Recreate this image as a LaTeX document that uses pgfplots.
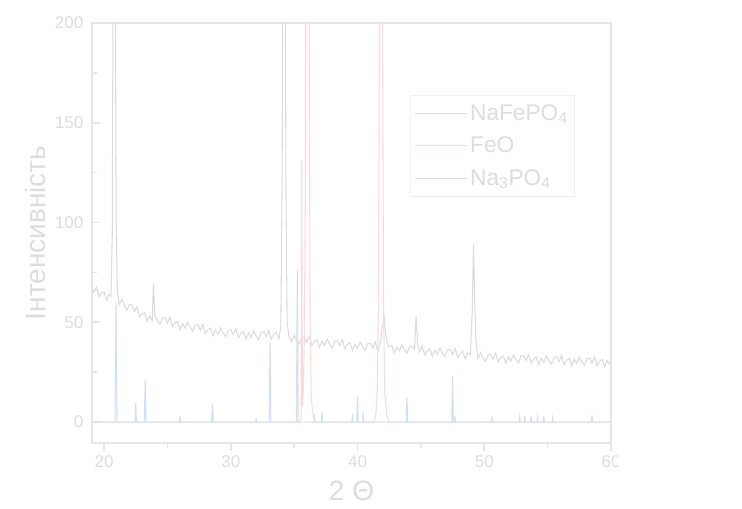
\documentclass[border=0pt]{standalone}
\usepackage{pgfplots}
\pgfplotsset{compat=1.18}
\usepackage{pgfplotstable}
\usepackage{fontspec}
\setmainfont{Liberation Sans}

\definecolor{axc}{HTML}{E6E6E6}
\definecolor{txc}{HTML}{DDDDDD}
\definecolor{grc}{HTML}{DCDCDC}
\definecolor{rdc}{HTML}{FADADA}
\definecolor{blc}{HTML}{D3DFF5}

% NaFePO4 pattern
\pgfplotstableread{
x y
19.0 67.8
19.2 65.0
19.4 67.7
19.6 62.9
19.8 64.7
20.0 65.3
20.2 61.2
20.4 64.0
20.55 63.0
20.65 95
20.72 230
20.8 420
20.88 240
20.96 100
21.05 66
21.2 58.8
21.4 61.5
21.6 58.5
21.8 56.1
22.0 58.9
22.2 58.6
22.4 55.5
22.6 57.9
22.8 52.8
23.0 54.3
23.2 54.8
23.4 50.6
23.6 53.3
23.8 50.8
23.9 69.5
24.0 53.6
24.2 50.9
24.4 49.0
24.6 52.1
24.8 52.3
25.0 49.6
25.2 52.4
25.4 47.7
25.6 49.7
25.8 50.4
26.0 46.4
26.2 49.3
26.4 47.1
26.6 50.1
26.8 47.5
27.0 45.5
27.2 48.6
27.4 48.8
27.6 46.1
27.8 49.0
28.0 44.3
28.2 46.3
28.4 47.1
28.6 43.2
28.8 46.2
29.0 44.0
29.2 47.2
29.4 44.6
29.6 42.8
29.8 46.0
30.0 46.3
30.2 43.8
30.4 46.8
30.6 42.3
30.8 44.4
31.0 45.3
31.2 41.5
31.4 44.6
31.6 42.4
31.8 45.6
32.0 43.1
32.2 41.4
32.4 44.8
32.6 45.2
32.8 42.8
33.0 45.9
33.2 41.6
33.4 44.0
33.6 45.1
33.8 41.6
33.95 48
34.05 120
34.12 260
34.2 450
34.28 260
34.36 110
34.45 50
34.6 42.6
34.8 40.4
35.0 43.6
35.2 41.0
35.4 39.1
35.6 42.3
35.8 42.6
36.0 40.0
36.2 43.0
36.4 38.4
36.6 40.5
36.8 41.3
37.0 37.5
37.2 40.6
37.4 38.4
37.6 41.6
37.8 39.0
38.0 37.2
38.2 40.5
38.4 40.8
38.6 38.3
38.8 41.3
39.0 36.8
39.2 38.9
39.4 39.8
39.6 35.9
39.8 39.0
40.0 36.9
40.2 40.1
40.4 37.7
40.6 35.9
40.8 39.2
41.0 39.5
41.2 37.0
41.4 40.0
41.6 35.6
41.8 39.5
41.95 47
42.1 52.5
42.2 45
42.35 39.5
42.5 37.6
42.7 38.5
42.9 34.6
43.1 37.7
43.3 35.6
43.5 38.7
43.7 36.2
43.9 34.4
44.1 37.7
44.3 37.9
44.5 36.5
44.62 53
44.75 39
44.9 35.2
45.1 38.2
45.3 33.7
45.5 35.8
45.7 36.7
45.9 32.9
46.1 36.0
46.3 33.9
46.5 37.1
46.7 34.6
46.9 32.8
47.1 36.1
47.3 36.4
47.5 33.9
47.7 36.9
47.9 32.4
48.1 34.5
48.3 35.4
48.5 31.6
48.7 34.6
48.9 34.0
49.05 55
49.15 89
49.25 60
49.35 41
49.5 31.8
49.7 34.8
49.9 32.1
50.1 30.3
50.3 33.6
50.5 34.0
50.7 31.5
50.9 34.6
51.1 30.1
51.3 32.3
51.5 33.2
51.7 29.5
51.9 32.6
52.1 30.6
52.3 33.8
52.5 31.4
52.7 29.6
52.9 33.0
53.1 33.3
53.3 30.9
53.5 33.9
53.7 29.5
53.9 31.6
54.1 32.6
54.3 28.8
54.5 32.0
54.7 29.9
54.9 33.2
55.1 30.7
55.3 29.0
55.5 32.3
55.7 32.7
55.9 30.2
56.1 33.3
56.3 28.8
56.5 31.0
56.7 32.0
56.9 28.2
57.1 31.4
57.3 29.3
57.5 32.6
57.7 30.2
57.9 28.4
58.1 31.8
58.3 32.1
58.5 29.7
58.7 32.8
58.9 28.3
59.1 30.5
59.3 31.4
59.5 27.7
59.7 30.9
59.9 28.8
60.0 30.5
}\nafepo

% FeO reference
\pgfplotstableread{
x y
19.0 0
35.4 0
35.55 2
35.6 131
35.65 8
35.72 15
35.8 40
35.88 110
35.96 300
36.05 600
36.15 350
36.25 60
36.35 12
36.5 3
36.7 0
41.3 0
41.45 4
41.55 15
41.65 60
41.75 250
41.85 600
41.95 250
42.05 60
42.15 15
42.3 4
42.5 0
60.0 0
}\feo

% Na3PO4 reference
\pgfplotstableread{
x y
19.0 0
20.87 0
20.95 60
21.03 0
22.44 0
22.5 9.5
22.56 0
23.18 0
23.25 21
23.32 0
25.96 0
26.0 3
26.04 0
28.49 0
28.55 9
28.61 0
31.96 0
32.0 1.5
32.04 0
33.03 0
33.1 40
33.17 0
35.18 0
35.25 76
35.32 0
36.57 0
36.6 4
36.63 0
37.16 0
37.2 5
37.24 0
39.56 0
39.6 4
39.64 0
39.94 0
40.0 13
40.06 0
40.41 0
40.45 5
40.49 0
43.84 0
43.9 12.5
43.96 0
47.44 0
47.5 23
47.56 0
47.67 0
47.7 3
47.73 0
50.56 0
50.6 3
50.64 0
52.76 0
52.8 2.5
52.84 0
53.16 0
53.2 3
53.24 0
53.66 0
53.7 3
53.74 0
54.16 0
54.2 2.5
54.24 0
54.66 0
54.7 3
54.74 0
55.36 0
55.4 2
55.44 0
58.46 0
58.5 3.5
58.54 0
60.0 0
}\napo

\begin{document}
\begin{tikzpicture}
\useasboundingbox (-69pt,-48.75pt) rectangle (487.5pt,332.25pt);
\begin{scope}
\clip (-69pt,-48.75pt) rectangle (393.75pt,332.25pt);
\begin{axis}[
    scale only axis,
    width=389.25pt, height=315pt,
    xmin=19.05, xmax=60, ymin=-10.5, ymax=200,
    axis line style={axc, line width=1.5pt},
    xtick={20,30,40,50,60}, ytick={0,50,100,150,200},
    minor x tick num=1, minor y tick num=1,
    xtick pos=bottom, ytick pos=left,
    xtick align=outside, ytick align=inside,
    major tick length=6pt, minor tick length=3.5pt,
    every tick/.style={axc, line width=1.2pt},
    tick label style={font=\fontsize{12.75}{15}\selectfont, color=txc},
    /pgf/number format/assume math mode=true,
    yticklabel style={xshift=-3pt},
    every axis y label/.style={at={(axis description cs:-0.1098,0.5)}, rotate=90,
        anchor=center, font=\fontsize{21}{25}\selectfont, color=txc},
    every axis x label/.style={at={(axis description cs:0.5,-0.115)},
        anchor=center, font=\fontsize{21}{25}\selectfont, color=txc},
    xlabel={2 Θ},
    ylabel={Інтенсивність},
    legend style={at={(0.613,0.829)}, anchor=north west, draw=black!6,
        font=\fontsize{17}{20}\selectfont, text=txc, row sep=7pt,
        inner xsep=3pt, inner ysep=5pt},
    legend cell align=left,
    legend image code/.code={\draw[#1] (0pt,0pt) -- (39pt,0pt);},
]
\addplot[grc, line width=0.8pt] table {\nafepo};
\addplot[rdc, line width=0.8pt] table {\feo};
\addplot[blc, line width=0.8pt] table {\napo};
\legend{NaFePO\textsubscript{4}, FeO, Na\textsubscript{3}PO\textsubscript{4}}
\end{axis}
\end{scope}
\end{tikzpicture}
\end{document}
